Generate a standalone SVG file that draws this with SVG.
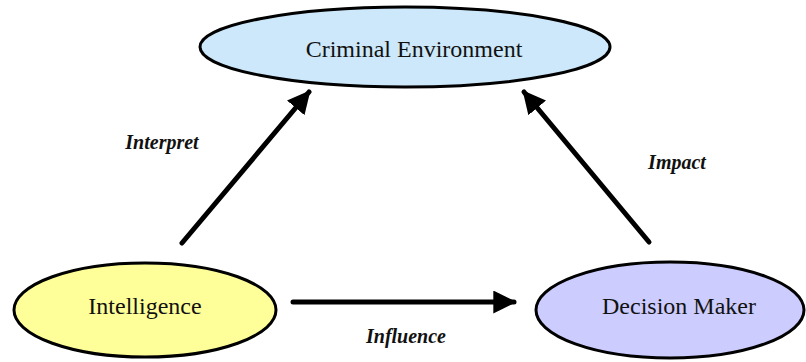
<svg xmlns="http://www.w3.org/2000/svg" width="806" height="362" viewBox="0 0 806 362">
<style>
.node{stroke:#000;stroke-width:3}
.nt{font-family:'Liberation Serif','Times New Roman','DejaVu Serif',serif;font-size:24px;fill:#111;text-anchor:middle}
.lb{font-family:'Liberation Serif','Times New Roman','DejaVu Serif',serif;font-size:20px;font-weight:bold;font-style:italic;fill:#111;text-anchor:middle}
.conn{stroke:#000;stroke-width:5;stroke-linecap:round;fill:none}
</style>
<defs>
<marker id="ah" viewBox="0 0 10 10" refX="9" refY="5" markerWidth="4.6" markerHeight="4.6" orient="auto" markerUnits="strokeWidth">
<path d="M0,0 L10,5 L0,10 Z" fill="#000"/>
</marker>
</defs>
<rect width="806" height="362" fill="#fff"/>
<g id="connectors">
<line class="conn" x1="182" y1="243" x2="309" y2="92" marker-end="url(#ah)"/>
<line class="conn" x1="649" y1="242" x2="524" y2="92" marker-end="url(#ah)"/>
<line class="conn" x1="293" y1="302" x2="514" y2="302" marker-end="url(#ah)"/>
<text class="lb" x="162" y="149">Interpret</text>
<text class="lb" x="677" y="169">Impact</text>
<text class="lb" x="406" y="343">Influence</text>
</g>
<g id="criminal-environment">
<ellipse class="node" cx="405" cy="47" rx="205" ry="40" fill="#cce8fa"/>
<text class="nt" x="414" y="57">Criminal Environment</text>
</g>
<g id="intelligence">
<ellipse class="node" cx="145" cy="310" rx="131" ry="47" fill="#ffff99"/>
<text class="nt" x="145" y="314">Intelligence</text>
</g>
<g id="decision-maker">
<ellipse class="node" cx="670" cy="310" rx="134" ry="48" fill="#ccccff"/>
<text class="nt" x="679" y="314">Decision Maker</text>
</g>
</svg>
